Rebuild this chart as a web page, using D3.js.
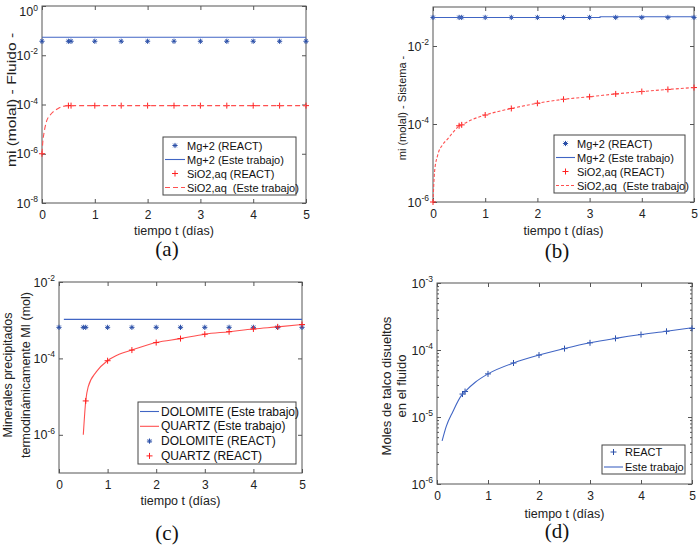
<!DOCTYPE html>
<html>
<head>
<meta charset="utf-8">
<script src="https://cdn.jsdelivr.net/npm/d3@7"></script>
<style>
  body { margin: 0; background: #fff; }
  svg { font-family: "Liberation Sans", Arial, sans-serif; }
  .axis path, .axis line { stroke: #555; }
  .axis text { font-size: 12px; fill: #222; }
</style>
</head>
<body>
<div id="chart"></div>
<script>
// shared REACT sample times
const reactTime = [0, 0.5, 0.55, 1, 1.5, 2, 2.5, 3, 3.5, 4, 4.5, 5];
const xTicks = [0, 1, 2, 3, 4, 5];

// (a) fluid
const aMgReact = [0.037, 0.037, 0.037, 0.037, 0.037, 0.037, 0.037, 0.037, 0.037, 0.037, 0.037, 0.037];
const aMgModelT = [0, 5];
const aMgModel = [0.054, 0.054];
const aSiReact = [1e-6, 9e-5, 9e-5, 9e-5, 9e-5, 9e-5, 9e-5, 9e-5, 9e-5, 9e-5, 9e-5, 9e-5];
const aSiModelT = [0, 0.015, 0.04, 0.09, 0.15, 0.21, 0.29, 0.37, 0.45, 0.5, 1, 2, 3, 4, 5];
const aSiModel = [1e-6, 3e-6, 7.4e-6, 2.2e-5, 3.6e-5, 5e-5, 6.6e-5, 8e-5, 8.8e-5, 9e-5, 9e-5, 9e-5, 9e-5, 9e-5, 9e-5];

// (b) system
const bMgReact = [0.054, 0.054, 0.054, 0.054, 0.054, 0.054, 0.054, 0.054, 0.054, 0.054, 0.054, 0.054];
const bMgModelT = [0, 3.2, 3.2, 5];
const bMgModel = [0.054, 0.054, 0.056, 0.056];
const bSiReact = [1e-6, 9e-5, 9.5e-5, 1.7e-4, 2.5e-4, 3.4e-4, 4.3e-4, 5.0e-4, 5.9e-4, 6.8e-4, 7.7e-4, 8.6e-4];
const bSiModelT = [0, 0.03, 0.09, 0.18, 0.27, 0.37, 0.46, 0.5, 0.55, 0.75, 1, 1.25, 1.5, 2, 2.5, 3, 3.5, 4, 4.5, 5];
const bSiModel = [1e-6, 6e-6, 1.6e-5, 2.9e-5, 4e-5, 5.8e-5, 8e-5, 9e-5, 9.6e-5, 1.3e-4, 1.7e-4, 2.1e-4, 2.5e-4, 3.4e-4, 4.3e-4, 5.0e-4, 5.9e-4, 6.8e-4, 7.7e-4, 8.6e-4];

// (c) precipitated minerals
const cDolReact = [6.5e-4, 6.5e-4, 6.5e-4, 6.5e-4, 6.5e-4, 6.5e-4, 6.5e-4, 6.5e-4, 6.5e-4, 6.5e-4, 6.5e-4, 6.5e-4];
const cDolModelT = [0.1, 5];
const cDolModel = [1.05e-3, 1.05e-3];
const cQzReactT = [0.55, 1, 1.5, 2, 2.5, 3, 3.5, 4, 4.5, 5];
const cQzReact = [7.7e-6, 8.7e-5, 1.65e-4, 2.6e-4, 3.3e-4, 4.3e-4, 5.0e-4, 5.9e-4, 6.7e-4, 7.7e-4];
const cQzModelT = [0.5, 0.55, 0.6, 0.77, 1, 1.25, 1.5, 2, 2.5, 3, 3.5, 4, 4.5, 5];
const cQzModel = [1e-6, 7.7e-6, 1.8e-5, 4.5e-5, 8.7e-5, 1.3e-4, 1.65e-4, 2.6e-4, 3.3e-4, 4.3e-4, 5.0e-4, 5.9e-4, 6.7e-4, 7.7e-4];

// (d) dissolved talc
const dReactT = [0.5, 0.55, 1, 1.5, 2, 2.5, 3, 3.5, 4, 4.5, 5];
const dReact = [2.2e-5, 2.4e-5, 4.4e-5, 6.4e-5, 8.4e-5, 1.05e-4, 1.28e-4, 1.49e-4, 1.7e-4, 1.9e-4, 2.1e-4];
const dModelT = [0.1, 0.18, 0.31, 0.48, 0.55, 0.75, 1, 1.5, 2, 2.5, 3, 3.5, 4, 4.5, 5];
const dModel = [4.4e-6, 7.2e-6, 1.2e-5, 2.1e-5, 2.4e-5, 3.3e-5, 4.4e-5, 6.4e-5, 8.4e-5, 1.05e-4, 1.28e-4, 1.49e-4, 1.7e-4, 1.9e-4, 2.15e-4];

const BLUE_LINE = "#4065c4";
const BLUE_MARK = "#2a4fa8";
const RED_MARK = "#ff2020";
const RED_LINE = "#ff5050";

const svg = d3.select("#chart").append("svg")
    .attr("width", 700)
    .attr("height", 546);

function zip(t, v) { return t.map((d, i) => ({ t: d, v: v[i] })); }

function starPath(x, y) {
    const r = 2.6, q = r * 0.7;
    return `M${x - r},${y}H${x + r}M${x},${y - r}V${y + r}M${x - q},${y - q}L${x + q},${y + q}M${x - q},${y + q}L${x + q},${y - q}`;
}
function plusPath(x, y) {
    const r = 3;
    return `M${x - r},${y}H${x + r}M${x},${y - r}V${y + r}`;
}

function drawPanel(p) {
    const g = svg.append("g");
    const x = d3.scaleLinear().domain([0, 5]).range([p.left, p.right]);
    const y = d3.scaleLog().domain(p.yDomain).range([p.bottom, p.top]);

    // box
    g.append("rect")
        .attr("x", p.left).attr("y", p.top)
        .attr("width", p.right - p.left).attr("height", p.bottom - p.top)
        .attr("fill", "#fff").attr("stroke", "#555");

    // x axes (inward ticks)
    g.append("g").attr("class", "axis")
        .attr("transform", `translate(0,${p.bottom})`)
        .call(d3.axisBottom(x).tickValues(xTicks).tickFormat(d3.format("d")).tickSizeInner(-4).tickSizeOuter(0).tickPadding(7))
        .call(s => s.select(".domain").remove());
    g.append("g").attr("class", "axis")
        .attr("transform", `translate(0,${p.top})`)
        .call(d3.axisTop(x).tickValues(xTicks).tickFormat("").tickSizeInner(-4).tickSizeOuter(0))
        .call(s => s.select(".domain").remove());

    // y axes
    const yMinor = [];
    if (p.minor) {
        const [lo, hi] = p.yDomain;
        for (let e = Math.round(Math.log10(lo)); e < Math.round(Math.log10(hi)); e++) {
            for (let k = 2; k <= 9; k++) yMinor.push(k * Math.pow(10, e));
        }
    }
    [d3.axisLeft, d3.axisRight].forEach((ax, i) => {
        const pos = i === 0 ? p.left : p.right;
        const a = g.append("g").attr("class", "axis").attr("transform", `translate(${pos},0)`);
        a.call(ax(y).tickValues(p.yTicks).tickFormat("").tickSizeInner(-4).tickSizeOuter(0))
            .call(s => s.select(".domain").remove());
        if (yMinor.length) {
            a.append("g").call(ax(y).tickValues(yMinor).tickFormat("").tickSizeInner(-2).tickSizeOuter(0))
                .call(s => s.select(".domain").remove())
                .selectAll("line").attr("stroke", "#555");
        }
    });

    // y tick labels 10^n
    g.selectAll(".ylab").data(p.yTicks).enter().append("text")
        .attr("x", p.left - 4)
        .attr("y", d => Math.max(y(d) + 4.5, 16))
        .attr("text-anchor", "end")
        .attr("font-size", 12.5)
        .attr("fill", "#222")
        .each(function (d) {
            const t = d3.select(this);
            t.append("tspan").text("10");
            t.append("tspan").attr("dy", -5.5).attr("font-size", 8.5).text(Math.round(Math.log10(d)));
        });

    // axis titles
    g.append("text")
        .attr("x", (p.left + p.right) / 2).attr("y", p.xTitleY)
        .attr("text-anchor", "middle").attr("font-size", 12.5).attr("fill", "#222")
        .text("tiempo t (días)");
    const yt = g.append("text")
        .attr("transform", `translate(${p.yTitleX},${p.yTitleY}) rotate(-90) scale(${p.yTitleStretch || 1},1)`)
        .attr("text-anchor", "middle").attr("font-size", p.yTitleSize).attr("fill", "#222");
    p.yTitle.forEach((line, i) => {
        yt.append("tspan").attr("x", 0).attr("dy", i === 0 ? 0 : p.yTitleGap).text(line);
    });

    // caption
    g.append("text")
        .attr("x", p.capX).attr("y", p.capY)
        .attr("text-anchor", "middle")
        .attr("font-family", "'Liberation Serif', 'Times New Roman', serif")
        .attr("font-size", 21).attr("fill", "#111")
        .text(p.caption);

    const line = d3.line().x(d => x(d.t)).y(d => y(d.v)).curve(d3.curveMonotoneX);

    p.series.forEach(s => {
        const data = zip(s.t, s.v);
        if (s.type === "line") {
            g.append("path").datum(data)
                .attr("fill", "none")
                .attr("stroke", s.color)
                .attr("stroke-width", 1.1)
                .attr("stroke-dasharray", s.dash || null)
                .attr("d", line);
        } else {
            g.append("g").selectAll("path").data(data).enter().append("path")
                .attr("d", d => (s.type === "star" ? starPath : plusPath)(x(d.t), y(d.v)))
                .attr("stroke", s.color)
                .attr("stroke-width", 1)
                .attr("fill", "none");
        }
    });

    // legend
    const L = p.legend;
    g.append("rect")
        .attr("x", L.x).attr("y", L.y).attr("width", L.w).attr("height", L.h)
        .attr("fill", "#fff").attr("stroke", "#444").attr("stroke-width", 1);
    L.items.forEach((it, i) => {
        const cy = L.y + L.first + i * L.step;
        const s = p.series[it.series];
        if (s.type === "line") {
            g.append("line")
                .attr("x1", L.x + 2).attr("x2", L.textX - 2)
                .attr("y1", cy).attr("y2", cy)
                .attr("stroke", s.color).attr("stroke-width", 1.1)
                .attr("stroke-dasharray", s.dash || null);
        } else {
            g.append("path")
                .attr("d", (s.type === "star" ? starPath : plusPath)((L.x + L.textX) / 2, cy))
                .attr("stroke", s.color).attr("fill", "none");
        }
        g.append("text")
            .attr("x", L.textX).attr("y", cy + 4)
            .attr("font-size", L.fs).attr("fill", "#111")
            .attr("xml:space", "preserve")
            .text(it.label);
    });
}

drawPanel({
    left: 42, right: 306, top: 6, bottom: 203,
    yDomain: [1e-8, 1], yTicks: [1e-8, 1e-6, 1e-4, 1e-2, 1],
    xTitleY: 235,
    yTitle: ["mi (molal) - Fluido -"], yTitleX: 16, yTitleY: 100, yTitleSize: 13, yTitleStretch: 1.2,
    caption: "(a)", capX: 167, capY: 256,
    series: [
        { type: "star", t: reactTime, v: aMgReact, color: BLUE_MARK },
        { type: "line", t: aMgModelT, v: aMgModel, color: BLUE_LINE },
        { type: "plus", t: reactTime, v: aSiReact, color: RED_MARK },
        { type: "line", t: aSiModelT, v: aSiModel, color: RED_LINE, dash: "5,3" }
    ],
    legend: {
        x: 163, y: 137, w: 133, h: 58, first: 8.5, step: 14, textX: 187, fs: 11,
        items: [
            { series: 0, label: "Mg+2 (REACT)" },
            { series: 1, label: "Mg+2 (Este trabajo)" },
            { series: 2, label: "SiO2,aq (REACT)" },
            { series: 3, label: "SiO2,aq  (Este trabajo)" }
        ]
    }
});

drawPanel({
    left: 433, right: 694, top: 7, bottom: 202,
    yDomain: [1e-6, 1e-1], yTicks: [1e-6, 1e-4, 1e-2],
    xTitleY: 235,
    yTitle: ["mi (molal) - Sistema -"], yTitleX: 406, yTitleY: 108, yTitleSize: 11,
    caption: "(b)", capX: 557, capY: 258,
    series: [
        { type: "star", t: reactTime, v: bMgReact, color: BLUE_MARK },
        { type: "line", t: bMgModelT, v: bMgModel, color: BLUE_LINE },
        { type: "plus", t: reactTime, v: bSiReact, color: RED_MARK },
        { type: "line", t: bSiModelT, v: bSiModel, color: RED_LINE, dash: "3,2" }
    ],
    legend: {
        x: 554, y: 135, w: 131, h: 58, first: 8.5, step: 14, textX: 577, fs: 11,
        items: [
            { series: 0, label: "Mg+2 (REACT)" },
            { series: 1, label: "Mg+2 (Este trabajo)" },
            { series: 2, label: "SiO2,aq (REACT)" },
            { series: 3, label: "SiO2,aq  (Este trabajo)" }
        ]
    }
});

drawPanel({
    left: 59, right: 302, top: 282, bottom: 473,
    yDomain: [1e-7, 1e-2], yTicks: [1e-6, 1e-4, 1e-2],
    xTitleY: 505,
    yTitle: ["Minerales precipitados", "termodinámicamente MI (mol)"], yTitleX: 12, yTitleY: 375, yTitleSize: 12.5, yTitleGap: 18,
    caption: "(c)", capX: 167, capY: 540,
    series: [
        { type: "line", t: cDolModelT, v: cDolModel, color: BLUE_LINE },
        { type: "line", t: cQzModelT, v: cQzModel, color: RED_LINE },
        { type: "star", t: reactTime, v: cDolReact, color: BLUE_MARK },
        { type: "plus", t: cQzReactT, v: cQzReact, color: RED_MARK }
    ],
    legend: {
        x: 138, y: 402, w: 158, h: 62, first: 9.5, step: 14.8, textX: 161, fs: 12,
        items: [
            { series: 0, label: "DOLOMITE (Este trabajo)" },
            { series: 1, label: "QUARTZ (Este trabajo)" },
            { series: 2, label: "DOLOMITE (REACT)" },
            { series: 3, label: "QUARTZ (REACT)" }
        ]
    }
});

drawPanel({
    left: 437, right: 692, top: 283, bottom: 484,
    yDomain: [1e-6, 1e-3], yTicks: [1e-6, 1e-5, 1e-4, 1e-3], minor: true,
    xTitleY: 518,
    yTitle: ["Moles de talco disueltos", "en el fluido"], yTitleX: 391, yTitleY: 386, yTitleSize: 13, yTitleGap: 14.5,
    caption: "(d)", capX: 557, capY: 538,
    series: [
        { type: "plus", t: dReactT, v: dReact, color: BLUE_MARK },
        { type: "line", t: dModelT, v: dModel, color: BLUE_LINE }
    ],
    legend: {
        x: 602, y: 445, w: 83, h: 29, first: 7, step: 15, textX: 625, fs: 11,
        items: [
            { series: 0, label: "REACT" },
            { series: 1, label: "Este trabajo" }
        ]
    }
});
</script>
</body>
</html>
